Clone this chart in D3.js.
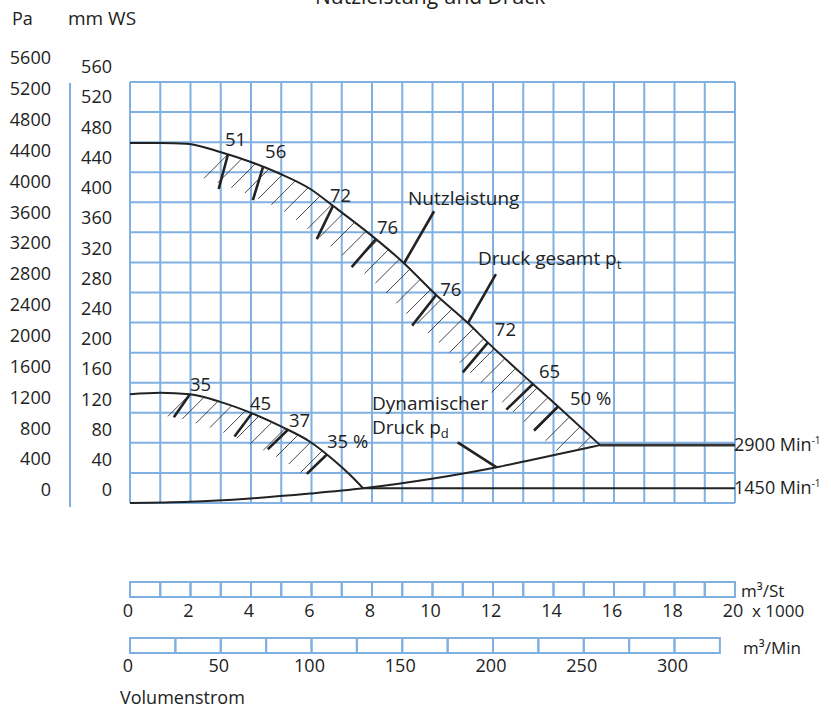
<!DOCTYPE html>
<html><head><meta charset="utf-8">
<script src="https://cdn.jsdelivr.net/npm/d3@7"></script>
<style>
body{margin:0;background:#fff;}
svg{display:block;font-family:"Open Sans",sans-serif;}
</style>
</head><body>
<svg id="c" width="831" height="709"></svg>
<script>
// ---------- data ----------
const volumeStTicks = [0,2,4,6,8,10,12,14,16,18,20];          // m³/St x 1000
const volumeMinTicks = [0,50,100,150,200,250,300];           // m³/Min
const paTicks = [0,400,800,1200,1600,2000,2400,2800,3200,3600,4000,4400,4800,5200,5600];
const mmTicks = [0,40,80,120,160,200,240,280,320,360,400,440,480,520,560];
// total pressure curve, 2900 1/min  [q (1000 m³/St), mm WS]
const druck2900 = [[0,479],[1,479],[1.87,478],[2.98,467],[3.97,454],[4.96,438],[5.95,418],[6.72,395],[8.04,354],[9.03,320],[10.14,276],[11.18,239],[11.84,213],[13.33,158],[14.16,128],[15.54,77]];
const linie2900 = [[15.54,77],[20,77]];
// total pressure curve, 1450 1/min
const druck1450 = [[0,144.5],[0.99,146.5],[1.98,144.5],[2.98,134.5],[4.02,119.5],[5.01,101.5],[5.95,81.5],[6.72,57.5],[7.27,37.5],[7.71,19.5]];
const linie1450 = [[7.71,19.5],[20,19.5]];
// dynamic pressure
const druckDyn = [[0,0],[1.98,1.5],[3.97,6],[5.95,12.5],[7.71,19.5],[10.03,32.5],[12.12,47.5],[13.11,56],[15.54,77]];
// efficiency marks (q, label)
const eta2900 = [[3.24,"51"],[4.40,"56"],[6.71,"72"],[8.13,"76"],[10.12,"76"],[11.83,"72"],[13.32,"65"],[14.15,"50 %"]];
const eta1450 = [[1.98,"35"],[4.03,"45"],[5.22,"37"],[6.51,"35 %"]];

// ---------- layout ----------
const svg = d3.select("#c");
const blue = "#7fb0e1", ink = "#222";
const x = d3.scaleLinear().domain([0,20]).range([130,735]);
const xMin = d3.scaleLinear().domain([0,20000/60]).range([130,735]);
const y = d3.scaleLinear().domain([0,560]).range([503,82]);
const paLab = d3.scaleLinear().domain([0,5600]).range([490,58]);
const mmLab = d3.scaleLinear().domain([0,560]).range([490,67]);
const FS = 18, FA = 19;

// title + units
svg.append("text").attr("x",315).attr("y",4).attr("font-size",21).attr("fill",ink).text("Nutzleistung und Druck");
svg.append("text").attr("x",12).attr("y",25).attr("font-size",FS).attr("fill",ink).text("Pa");
svg.append("text").attr("x",68).attr("y",25).attr("font-size",FA).attr("fill",ink).text("mm WS");

// grid
const g = svg.append("g");
g.selectAll("line.v").data(d3.range(0,21)).join("line")
  .attr("x1",d=>x(d)).attr("x2",d=>x(d)).attr("y1",y(560)).attr("y2",y(0))
  .attr("stroke",blue).attr("stroke-width",2);
g.selectAll("line.h").data(mmTicks).join("line")
  .attr("x1",x(0)).attr("x2",x(20)).attr("y1",d=>y(d)).attr("y2",d=>y(d))
  .attr("stroke",blue).attr("stroke-width",2);
// left separator
svg.append("line").attr("x1",70).attr("x2",70).attr("y1",y(560)+1).attr("y2",y(0)+4)
  .attr("stroke",blue).attr("stroke-width",2);

// left axes (labels only)
function labelAxis(scale, ticks, xpos){
  const a = svg.append("g").attr("transform",`translate(${xpos},0)`)
    .call(d3.axisLeft(scale).tickValues(ticks).tickSize(0).tickPadding(0).tickFormat(d3.format("d")));
  a.select(".domain").remove();
  a.selectAll("text").attr("font-size",FS).attr("font-family","Open Sans").attr("fill",ink);
}
labelAxis(paLab, paTicks, 51);
labelAxis(mmLab, mmTicks, 112);

// curves
const line = d3.line().x(d=>x(d[0])).y(d=>y(d[1])).curve(d3.curveMonotoneX);
const lin = d3.line().x(d=>x(d[0])).y(d=>y(d[1]));
const p2900 = svg.append("path").attr("d",line(druck2900)).attr("fill","none").attr("stroke",ink).attr("stroke-width",2);
svg.append("path").attr("d",lin(linie2900)).attr("fill","none").attr("stroke","#333").attr("stroke-width",2.6);
const p1450 = svg.append("path").attr("d",line(druck1450)).attr("fill","none").attr("stroke",ink).attr("stroke-width",2);
svg.append("path").attr("d",lin(linie1450)).attr("fill","none").attr("stroke",ink).attr("stroke-width",2);
const pDyn = svg.append("path").attr("d",line(druckDyn)).attr("fill","none").attr("stroke",ink).attr("stroke-width",2);

// clip: region above the dynamic pressure curve
const area = d3.area().x(d=>x(d[0])).y0(0).y1(d=>y(d[1])).curve(d3.curveMonotoneX);
svg.append("clipPath").attr("id","above").append("path").attr("d",area(druckDyn));

function lenAtX(node, px){
  let lo=0, hi=node.getTotalLength();
  for(let i=0;i<40;i++){const m=(lo+hi)/2; if(node.getPointAtLength(m).x<px) lo=m; else hi=m;}
  return (lo+hi)/2;
}
function hatch(node, q0, q1, step, len){
  const hg = svg.append("g").attr("clip-path","url(#above)");
  const L0 = lenAtX(node, x(q0)), L1 = lenAtX(node, x(q1));
  const pts = d3.range(L0, L1+0.1, step).map(l=>node.getPointAtLength(l));
  const c = Math.SQRT1_2;
  hg.selectAll("line").data(pts).join("line")
    .attr("x1",p=>p.x).attr("y1",p=>p.y).attr("x2",p=>p.x-len*c).attr("y2",p=>p.y+len*c)
    .attr("stroke","#333").attr("stroke-width",0.9);
  return hg;
}
hatch(p2900.node(), 3.24, 15.54, 14.5, 34);
hatch(p1450.node(), 1.98, 6.6, 14.5, 31);

// efficiency markers (angle in degrees below horizontal, pointing left)
const angUp = [75,73,64,49,52,50,44,45], lenUp = [36,35,37,37,39,39,37,34];
const offUp = [[-3,-8],[2,-9],[-3,-4],[1,-5],[4,1],[7,-7],[6,-6],[12,-1]];
const angLo = [55,53,44,44], lenLo = [28,29,28,28];
const offLo = [[0,-3],[-2,-3],[1,-3],[0,-6]];
function markers(node, data, ang, len, off){
  data.forEach((d,i)=>{
    const p = node.getPointAtLength(lenAtX(node, x(d[0])));
    const a = ang[i]*Math.PI/180;
    svg.append("line").attr("x1",p.x).attr("y1",p.y)
      .attr("x2",p.x-len[i]*Math.cos(a)).attr("y2",p.y+len[i]*Math.sin(a))
      .attr("stroke",ink).attr("stroke-width",2.6);
    svg.append("text").attr("x",p.x+off[i][0]).attr("y",p.y+off[i][1])
      .attr("font-size",18.5).attr("fill",ink).text(d[1]);
  });
}
markers(p2900.node(), eta2900, angUp, lenUp, offUp);
markers(p1450.node(), eta1450, angLo, lenLo, offLo);

// pointers + annotations
function pointer(node, q, dx, dy){
  const p = node.getPointAtLength(lenAtX(node, x(q)));
  svg.append("line").attr("x1",p.x).attr("y1",p.y).attr("x2",p.x+dx).attr("y2",p.y+dy)
    .attr("stroke",ink).attr("stroke-width",2.6);
}
pointer(p2900.node(), 9.06, 30, -52);
pointer(p2900.node(), 11.17, 28, -49);
pointer(pDyn.node(), 12.12, -39, -25);

function label(xp, yp, main, sub, sup, fs){
  const t = svg.append("text").attr("x",xp).attr("y",yp).attr("font-size",fs||FA).attr("fill",ink);
  t.append("tspan").text(main);
  if(sub) t.append("tspan").attr("font-size",13).attr("dy",4).text(sub);
  if(sup) t.append("tspan").attr("font-size",10).attr("dy",-7).text(sup);
}
label(408,205,"Nutzleistung");
label(478,265,"Druck gesamt p","t");
label(372,410,"Dynamischer");
label(372,434,"Druck p","d");
label(734,451,"2900 Min","", "-1", 18);
label(734,494,"1450 Min","", "-1", 18);

// bottom scales
const b1 = svg.append("g");
b1.selectAll("rect").data(d3.range(0,20)).join("rect")
  .attr("x",d=>x(d)).attr("width",x(1)-x(0)).attr("y",582).attr("height",15)
  .attr("fill","none").attr("stroke",blue).attr("stroke-width",2);
b1.selectAll("text").data(volumeStTicks).join("text")
  .attr("x",d=>x(d)-2).attr("y",617).attr("text-anchor","middle").attr("font-size",FS).attr("fill",ink).text(d=>d);
svg.append("text").attr("x",741).attr("y",597).attr("font-size",17).attr("fill",ink).text("m³/St");
svg.append("text").attr("x",752).attr("y",617).attr("font-size",17).attr("fill",ink).text("x 1000");

const minCells = d3.range(0,325,25);
const b2 = svg.append("g");
b2.selectAll("rect").data(minCells).join("rect")
  .attr("x",d=>xMin(d)).attr("width",xMin(25)-xMin(0)).attr("y",638).attr("height",15)
  .attr("fill","none").attr("stroke",blue).attr("stroke-width",2);
b2.selectAll("text").data(volumeMinTicks).join("text")
  .attr("x",d=>xMin(d)-2).attr("y",672).attr("text-anchor","middle").attr("font-size",FS).attr("fill",ink).text(d=>d);
svg.append("text").attr("x",743).attr("y",654).attr("font-size",17).attr("fill",ink).text("m³/Min");
svg.append("text").attr("x",120).attr("y",704).attr("font-size",18).attr("fill",ink).text("Volumenstrom");
</script>
</body></html>
